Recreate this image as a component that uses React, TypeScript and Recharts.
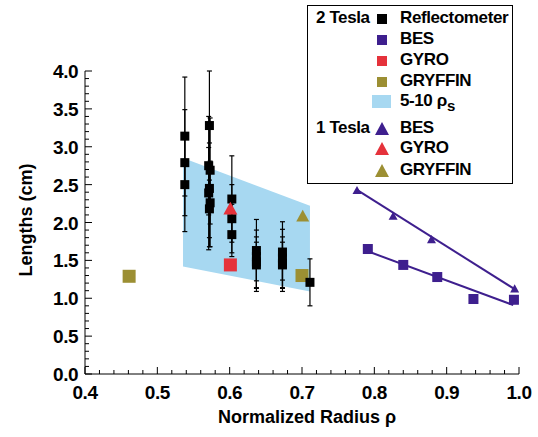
import {
  Area,
  ComposedChart,
  ErrorBar,
  Label,
  Scatter,
  XAxis,
  YAxis,
} from 'recharts';

// ticks (minor + major)
const X_TICKS = [
  0.4, 0.42, 0.44, 0.46, 0.48, 0.5, 0.52, 0.54, 0.56, 0.58, 0.6, 0.62, 0.64, 0.66, 0.68, 0.7,
  0.72, 0.74, 0.76, 0.78, 0.8, 0.82, 0.84, 0.86, 0.88, 0.9, 0.92, 0.94, 0.96, 0.98, 1.0,
];
const Y_TICKS = [
  0, 0.1, 0.2, 0.3, 0.4, 0.5, 0.6, 0.7, 0.8, 0.9, 1.0, 1.1, 1.2, 1.3, 1.4, 1.5, 1.6, 1.7, 1.8,
  1.9, 2.0, 2.1, 2.2, 2.3, 2.4, 2.5, 2.6, 2.7, 2.8, 2.9, 3.0, 3.1, 3.2, 3.3, 3.4, 3.5, 3.6, 3.7,
  3.8, 3.9, 4.0,
];

// 2 Tesla reflectometer
const reflRho = [
  0.538, 0.538, 0.538,
  0.572, 0.571, 0.573, 0.572, 0.571, 0.573, 0.572,
  0.603, 0.603, 0.603,
  0.637, 0.637, 0.637, 0.637,
  0.673, 0.673, 0.673, 0.673,
  0.711,
];
const reflLen = [
  3.14, 2.79, 2.5,
  3.28, 2.75, 2.69, 2.45, 2.39, 2.26, 2.18,
  2.31, 2.05, 1.84,
  1.63, 1.55, 1.48, 1.44,
  1.61, 1.53, 1.46, 1.44,
  1.21,
];
const reflErrLo = [
  0.79, 0.7, 0.62,
  0.72, 0.65, 0.71, 0.65, 0.75, 0.58, 0.5,
  0.57, 0.45, 0.29,
  0.4, 0.42, 0.39, 0.3,
  0.37, 0.4, 0.37, 0.3,
  0.31,
];
const reflErrHi = [
  0.78, 0.7, 0.62,
  0.72, 0.65, 0.69, 0.6, 0.6, 0.55, 0.5,
  0.57, 0.45, 0.4,
  0.41, 0.35, 0.33, 0.3,
  0.4, 0.38, 0.35, 0.3,
  0.31,
];

// 2 Tesla BES
const bes2Rho = [0.791, 0.84, 0.887, 0.937, 0.993];
const bes2Len = [1.65, 1.44, 1.28, 0.99, 0.98];
const bes2FitRho = [0.788, 0.992];
const bes2FitLen = [1.63, 0.91];

// 1 Tesla BES
const bes1Rho = [0.776, 0.826, 0.879, 0.994];
const bes1Len = [2.43, 2.09, 1.78, 1.13];
const bes1FitRho = [0.776, 0.994];
const bes1FitLen = [2.43, 1.12];

// GYRO / GRYFFIN
const gyro2Rho = [0.601];
const gyro2Len = [1.44];
const gryffin2Rho = [0.461, 0.7];
const gryffin2Len = [1.29, 1.3];
const gyro1Rho = [0.601];
const gyro1Len = [2.19];
const gryffin1Rho = [0.701];
const gryffin1Len = [2.09];

// 5-10 rho_s band
const bandRho = [0.5355, 0.711];
const bandLo = [1.42, 1.09];
const bandHi = [2.85, 2.22];

const BLACK = '#000000';
const PURPLE = '#3e1f8e';
const RED = '#e5323b';
const OLIVE = '#9c8f33';
const BLUE = '#a7d8f1';
const FONT = '"Liberation Sans", Arial, Helvetica, sans-serif';

const pts = (xs: number[], ys: number[]) => xs.map((x, i) => ({ x, y: ys[i] }));

const reflData = reflRho.map((x, i) => ({
  x,
  y: reflLen[i],
  err: [reflErrLo[i], reflErrHi[i]],
}));
const bandData = bandRho.map((x, i) => ({ x, band: [bandLo[i], bandHi[i]] }));

const square = (side: number, color: string) => (p: any) => (
  <rect x={p.cx - side / 2} y={p.cy - side / 2} width={side} height={side} fill={color} />
);
const triangle = (w: number, color: string) => (p: any) => {
  const h = w * 0.9;
  return (
    <polygon
      points={`${p.cx - w / 2},${p.cy + h / 2} ${p.cx + w / 2},${p.cy + h / 2} ${p.cx},${p.cy - h / 2}`}
      fill={color}
    />
  );
};
const none = () => <g />;

const isMajorX = (v: number) => Math.abs(v * 10 - Math.round(v * 10)) < 1e-6;
const isMajorY = (v: number) => Math.abs(v * 2 - Math.round(v * 2)) < 1e-6;

const tickText = { fontFamily: FONT, fontWeight: 700, fontSize: 19, letterSpacing: -0.5, fill: '#000' };

const BottomTick = ({ x, y, payload }: any) => {
  const major = isMajorX(payload.value);
  return (
    <g>
      <line x1={x} x2={x} y1={y} y2={y - (major ? 7 : 4)} stroke="#000" />
      {major && (
        <text x={x} y={y + 25} textAnchor="middle" style={tickText}>
          {payload.value.toFixed(1)}
        </text>
      )}
    </g>
  );
};
const TopTick = ({ x, y, payload }: any) => {
  const major = isMajorX(payload.value);
  return <line x1={x} x2={x} y1={y} y2={y + (major ? 7 : 4)} stroke="#000" />;
};
const LeftTick = ({ x, y, payload }: any) => {
  const major = isMajorY(payload.value);
  return (
    <g>
      <line x1={x} x2={x + (major ? 7 : 4)} y1={y} y2={y} stroke="#000" />
      {major && (
        <text x={x - 7} y={y + 7} textAnchor="end" style={tickText}>
          {payload.value.toFixed(1)}
        </text>
      )}
    </g>
  );
};
const RightTick = ({ x, y, payload }: any) => {
  const major = isMajorY(payload.value);
  return <line x1={x} x2={x - (major ? 7 : 4)} y1={y} y2={y} stroke="#000" />;
};

const titleStyle = { fontFamily: FONT, fontWeight: 700, fontSize: 18, fill: '#000' };

const legendRow = (top: number): React.CSSProperties => ({
  position: 'absolute',
  left: 0,
  top: top - 5,
  height: 20,
  width: '100%',
});

function LegendBox() {
  const text: React.CSSProperties = {
    position: 'absolute',
    left: 92,
    top: -1,
    fontFamily: FONT,
    fontWeight: 700,
    fontSize: 17,
    letterSpacing: -0.4,
    lineHeight: '20px',
    whiteSpace: 'nowrap',
  };
  const group: React.CSSProperties = { ...text, left: 8 };
  const sq = (c: string) => (
    <div style={{ position: 'absolute', left: 69, top: 5, width: 10, height: 10, background: c }} />
  );
  const tri = (c: string) => (
    <svg style={{ position: 'absolute', left: 67, top: 3 }} width={14} height={13}>
      <polygon points="0,13 14,13 7,0" fill={c} />
    </svg>
  );
  const rows = [
    { y: 18, icon: sq(BLACK), label: 'Reflectometer', group: '2 Tesla' },
    { y: 39, icon: sq(PURPLE), label: 'BES' },
    { y: 60, icon: sq(RED), label: 'GYRO' },
    { y: 81, icon: sq(OLIVE), label: 'GRYFFIN' },
    { y: 128, icon: tri(PURPLE), label: 'BES', group: '1 Tesla' },
    { y: 148, icon: tri(RED), label: 'GYRO' },
    { y: 170, icon: tri(OLIVE), label: 'GRYFFIN' },
  ];
  return (
    <div
      style={{
        position: 'absolute',
        left: 307,
        top: 5,
        width: 204,
        height: 177,
        border: '1px solid #000',
        background: '#fff',
      }}
    >
      {rows.map((r, i) => (
        <div key={i} style={legendRow(r.y - 5 - 10 + 5)}>
          {r.group && <span style={group}>{r.group}</span>}
          {r.icon}
          <span style={text}>{r.label}</span>
        </div>
      ))}
      <div style={legendRow(101 - 5 - 10 + 5)}>
        <div style={{ position: 'absolute', left: 64, top: 3, width: 19, height: 13, background: BLUE }} />
        <span style={text}>
          5-10 ρ<sub style={{ fontSize: 15, verticalAlign: -5, lineHeight: 0 }}>s</sub>
        </span>
      </div>
    </div>
  );
}

export default function App() {
  return (
    <div style={{ position: 'absolute', left: 0, top: 0, width: 538, height: 437, background: '#fff' }}>
      <ComposedChart width={538} height={437} margin={{ top: 71, right: 19, bottom: 23, left: 25 }}>
        <XAxis
          dataKey="x"
          type="number"
          domain={[0.4, 1.0]}
          ticks={X_TICKS}
          interval={0}
          allowDataOverflow
          height={40}
          tickSize={0}
          tickMargin={0}
          tickLine={false}
          axisLine={{ stroke: '#000' }}
          tick={(p: any) => <BottomTick {...p} />}
        >
          <Label
            content={() => (
              <text x={307} y={423} textAnchor="middle" style={titleStyle}>
                Normalized Radius ρ
              </text>
            )}
          />
        </XAxis>
        <XAxis
          xAxisId="top"
          orientation="top"
          type="number"
          domain={[0.4, 1.0]}
          ticks={X_TICKS}
          interval={0}
          allowDataOverflow
          height={0}
          tickSize={0}
          tickMargin={0}
          tickLine={false}
          axisLine={{ stroke: '#000' }}
          tick={(p: any) => <TopTick {...p} />}
        />
        <YAxis
          dataKey="y"
          type="number"
          domain={[0, 4]}
          ticks={Y_TICKS}
          interval={0}
          allowDataOverflow
          width={60}
          tickSize={0}
          tickMargin={0}
          tickLine={false}
          axisLine={{ stroke: '#000' }}
          tick={(p: any) => <LeftTick {...p} />}
        >
          <Label
            content={() => (
              <text
                x={32}
                y={220}
                transform="rotate(-90 32 220)"
                textAnchor="middle"
                style={titleStyle}
              >
                Lengths (cm)
              </text>
            )}
          />
        </YAxis>
        <YAxis
          yAxisId="right"
          orientation="right"
          type="number"
          domain={[0, 4]}
          ticks={Y_TICKS}
          interval={0}
          allowDataOverflow
          width={0}
          tickSize={0}
          tickMargin={0}
          tickLine={false}
          axisLine={{ stroke: '#000' }}
          tick={(p: any) => <RightTick {...p} />}
        />

        <Area
          data={bandData}
          dataKey="band"
          type="linear"
          fill={BLUE}
          fillOpacity={1}
          stroke="none"
          isAnimationActive={false}
        />
        <Scatter data={pts(gryffin2Rho, gryffin2Len)} shape={square(13, OLIVE)} isAnimationActive={false} />
        <Scatter data={reflData} shape={square(9, BLACK)} isAnimationActive={false}>
          <ErrorBar dataKey="err" direction="y" width={2.5} stroke={BLACK} strokeWidth={1.2} />
        </Scatter>
        <Scatter data={pts(gyro2Rho, gyro2Len)} shape={square(13, RED)} isAnimationActive={false} />
        <Scatter data={pts(gyro1Rho, gyro1Len)} shape={triangle(14, RED)} isAnimationActive={false} />
        <Scatter data={pts(gryffin1Rho, gryffin1Len)} shape={triangle(13, OLIVE)} isAnimationActive={false} />

        <Scatter
          data={pts(bes2FitRho, bes2FitLen)}
          line={{ stroke: PURPLE, strokeWidth: 2 }}
          shape={none}
          isAnimationActive={false}
        />
        <Scatter
          data={pts(bes1FitRho, bes1FitLen)}
          line={{ stroke: PURPLE, strokeWidth: 2 }}
          shape={none}
          isAnimationActive={false}
        />
        <Scatter data={pts(bes2Rho, bes2Len)} shape={square(10, PURPLE)} isAnimationActive={false} />
        <Scatter data={pts(bes1Rho, bes1Len)} shape={triangle(9, PURPLE)} isAnimationActive={false} />
      </ComposedChart>
      <LegendBox />
    </div>
  );
}
